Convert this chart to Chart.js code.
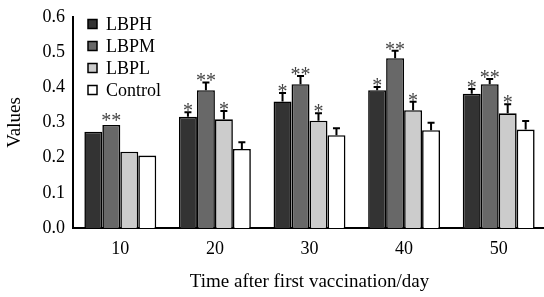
<!DOCTYPE html>
<html>
<head>
<meta charset="utf-8">
<script src="https://cdn.jsdelivr.net/npm/chart.js@4.4.1/dist/chart.umd.min.js"></script>
<style>
  html, body { margin: 0; padding: 0; background: #fff; overflow: hidden; }
  #wrap { width: 548px; height: 297px; }
</style>
</head>
<body>
<div id="wrap"><canvas id="myChart" width="548" height="297"></canvas></div>
<script>
const days = ["10", "20", "30", "40", "50"];

const lbph = [0.274, 0.316, 0.360, 0.392, 0.382];
const lbpm = [0.293, 0.392, 0.409, 0.483, 0.409];
const lbpl = [0.217, 0.309, 0.305, 0.335, 0.326];
const control = [0.206, 0.225, 0.264, 0.278, 0.280];

// upper error (SD), read from the caps
const lbphErr = [0, 0.013, 0.024, 0.009, 0.013];
const lbpmErr = [0, 0.022, 0.023, 0.021, 0.015];
const lbplErr = [0, 0.024, 0.021, 0.024, 0.026];
const controlErr = [0, 0.019, 0.020, 0.021, 0.024];

const lbphSig = ["", "*", "*", "*", "*"];
const lbpmSig = ["**", "**", "**", "**", "**"];
const lbplSig = ["", "*", "*", "*", "*"];
const controlSig = ["", "", "", "", ""];

const FONT = "'Liberation Serif', 'Times New Roman', serif";

function makeSet(label, data, err, sig, color) {
    return {
        label: label,
        data: data,
        err: err,
        sig: sig,
        backgroundColor: color,
        borderColor: "#000",
        borderWidth: 1.6,
        borderSkipped: "bottom",
        categoryPercentage: 0.76,
        barPercentage: 1.0
    };
}

const errorBars = {
    id: "errorBars",
    afterDatasetsDraw(chart) {
        const ctx = chart.ctx;
        const y = chart.scales.y;
        ctx.save();
        chart.data.datasets.forEach((ds, i) => {
            const meta = chart.getDatasetMeta(i);
            meta.data.forEach((bar, j) => {
                const e = ds.err[j];
                const top = y.getPixelForValue(ds.data[j]);
                let capY = top;
                if (e > 0) {
                    capY = y.getPixelForValue(ds.data[j] + e);
                    ctx.strokeStyle = "#000";
                    ctx.lineWidth = 2;
                    ctx.beginPath();
                    ctx.moveTo(bar.x, top);
                    ctx.lineTo(bar.x, capY);
                    ctx.moveTo(bar.x - 3.5, capY);
                    ctx.lineTo(bar.x + 3.5, capY);
                    ctx.stroke();
                }
                if (ds.sig[j]) {
                    ctx.fillStyle = "#444";
                    ctx.font = "20px " + FONT;
                    ctx.textAlign = "center";
                    ctx.textBaseline = "alphabetic";
                    ctx.fillText(ds.sig[j], bar.x, capY + (e > 0 ? 5 : 2));
                }
            });
        });
        ctx.restore();
    }
};

const boxLegend = {
    id: "boxLegend",
    afterDraw(chart) {
        const ctx = chart.ctx;
        ctx.save();
        ctx.font = "18px " + FONT;
        ctx.textBaseline = "middle";
        ctx.textAlign = "left";
        chart.data.datasets.forEach((ds, i) => {
            const cy = 24 + i * 22;
            ctx.fillStyle = ds.backgroundColor;
            ctx.fillRect(88, cy - 4.5, 9, 9);
            ctx.strokeStyle = "#000";
            ctx.lineWidth = 1.5;
            ctx.strokeRect(88, cy - 4.5, 9, 9);
            ctx.fillStyle = "#000";
            ctx.fillText(ds.label, 106, cy + 1);
        });
        ctx.restore();
    }
};

new Chart(document.getElementById("myChart").getContext("2d"), {
    type: "bar",
    data: {
        labels: days,
        datasets: [
            makeSet("LBPH", lbph, lbphErr, lbphSig, "#333333"),
            makeSet("LBPM", lbpm, lbpmErr, lbpmSig, "#686868"),
            makeSet("LBPL", lbpl, lbplErr, lbplSig, "#cccccc"),
            makeSet("Control", control, controlErr, controlSig, "#ffffff")
        ]
    },
    options: {
        responsive: false,
        animation: false,
        layout: { padding: { top: 17, right: 2, left: 0, bottom: 0 } },
        plugins: {
            legend: { display: false },
            tooltip: { enabled: false }
        },
        scales: {
            x: {
                afterFit(scale) { scale.height = 69; },
                grid: { display: false, drawTicks: true, tickLength: 7, tickColor: "#000", tickWidth: 2 },
                border: { color: "#000", width: 2 },
                ticks: { color: "#000", font: { family: FONT, size: 18 }, padding: 3 },
                title: {
                    display: true,
                    text: "Time after first vaccination/day",
                    color: "#000",
                    font: { family: FONT, size: 19 },
                    padding: { top: 13 }
                }
            },
            y: {
                min: 0,
                max: 0.6,
                afterFit(scale) { scale.width = 73; },
                grid: { display: false, drawTicks: true, tickLength: 5, tickColor: "#000", tickWidth: 2 },
                border: { color: "#000", width: 2 },
                ticks: {
                    stepSize: 0.1,
                    color: "#000",
                    font: { family: FONT, size: 18 },
                    padding: 3,
                    callback: v => v.toFixed(1)
                },
                title: {
                    display: true,
                    text: "Values",
                    color: "#000",
                    font: { family: FONT, size: 19 },
                    padding: { bottom: 2 }
                }
            }
        }
    },
    plugins: [errorBars, boxLegend]
});
</script>
</body>
</html>
